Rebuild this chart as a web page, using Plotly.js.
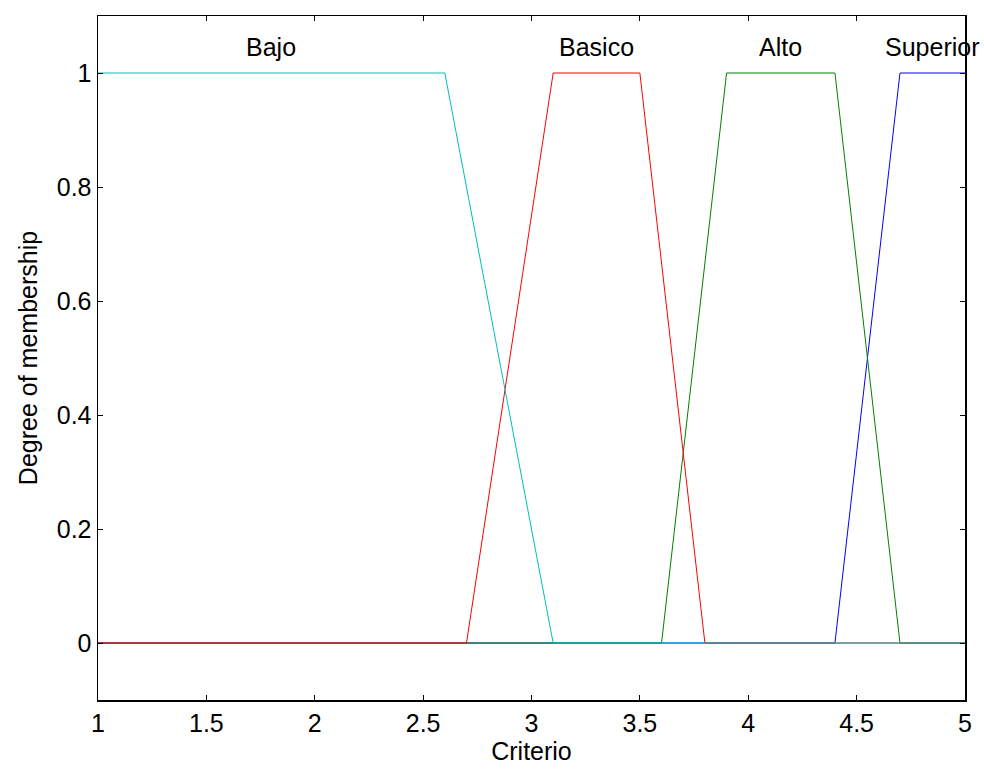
<!DOCTYPE html>
<html>
<head>
<meta charset="utf-8">
<script src="https://cdn.plot.ly/plotly-3.0.1.min.js"></script>
<style>html,body{margin:0;padding:0;background:#fff;}#chart{width:984px;height:770px;}</style>
</head>
<body>
<div id="chart"></div>
<script>
// Membership functions (trapezoids)
const bajoX = [1, 2.6, 3.1, 5];
const bajoY = [1, 1, 0, 0];
const basicoX = [1, 2.7, 3.1, 3.5, 3.8, 5];
const basicoY = [0, 0, 1, 1, 0, 0];
const altoX = [1, 3.6, 3.9, 4.4, 4.7, 5];
const altoY = [0, 0, 1, 1, 0, 0];
const superiorX = [1, 4.4, 4.7, 5];
const superiorY = [0, 0, 1, 1];

const mfNames = ["Bajo", "Basico", "Alto", "Superior"];
const mfLabelX = [1.8, 3.3, 4.15, 4.85];
const mfLabelY = [1.045, 1.045, 1.045, 1.045];

const xTicks = [1, 1.5, 2, 2.5, 3, 3.5, 4, 4.5, 5];
const yTicks = [0, 0.2, 0.4, 0.6, 0.8, 1];

const font = {family: "Liberation Sans, Arial, sans-serif", size: 25, color: "#000"};

const traces = [
  {x: superiorX, y: superiorY, mode: "lines", line: {color: "#0000FF", width: 1}, hoverinfo: "skip"},
  {x: altoX, y: altoY, mode: "lines", line: {color: "#008000", width: 1}, hoverinfo: "skip"},
  {x: basicoX, y: basicoY, mode: "lines", line: {color: "#FF0000", width: 1}, hoverinfo: "skip"},
  {x: bajoX, y: bajoY, mode: "lines", line: {color: "#00BFBF", width: 1}, hoverinfo: "skip"}
];

const annotations = mfNames.map((n, i) => ({
  x: mfLabelX[i], y: mfLabelY[i], xref: "x", yref: "y", text: n,
  showarrow: false, font: font, xanchor: "center", yanchor: "middle"
}));

const layout = {
  width: 984, height: 770,
  margin: {l: 98, r: 19, t: 16, b: 70},
  paper_bgcolor: "#fff", plot_bgcolor: "#fff",
  showlegend: false,
  font: font,
  xaxis: {
    range: [1, 5], tickvals: xTicks, ticktext: xTicks.map(String),
    ticks: "inside", ticklen: 5, tickcolor: "#000", mirror: "ticks",
    showline: true, linecolor: "#000", linewidth: 1.5,
    showgrid: false, zeroline: false, tickfont: font,
    title: {text: "Criterio", font: font, standoff: 2}
  },
  yaxis: {
    range: [-0.1, 1.1], tickvals: yTicks, ticktext: yTicks.map(String),
    ticks: "inside", ticklen: 5, tickcolor: "#000", mirror: "ticks",
    showline: true, linecolor: "#000", linewidth: 1.5,
    showgrid: false, zeroline: false, tickfont: font,
    title: {text: "Degree of membership", font: font, standoff: 12}
  },
  annotations: annotations
};

Plotly.newPlot("chart", traces, layout, {displayModeBar: false, staticPlot: true});
</script>
</body>
</html>
